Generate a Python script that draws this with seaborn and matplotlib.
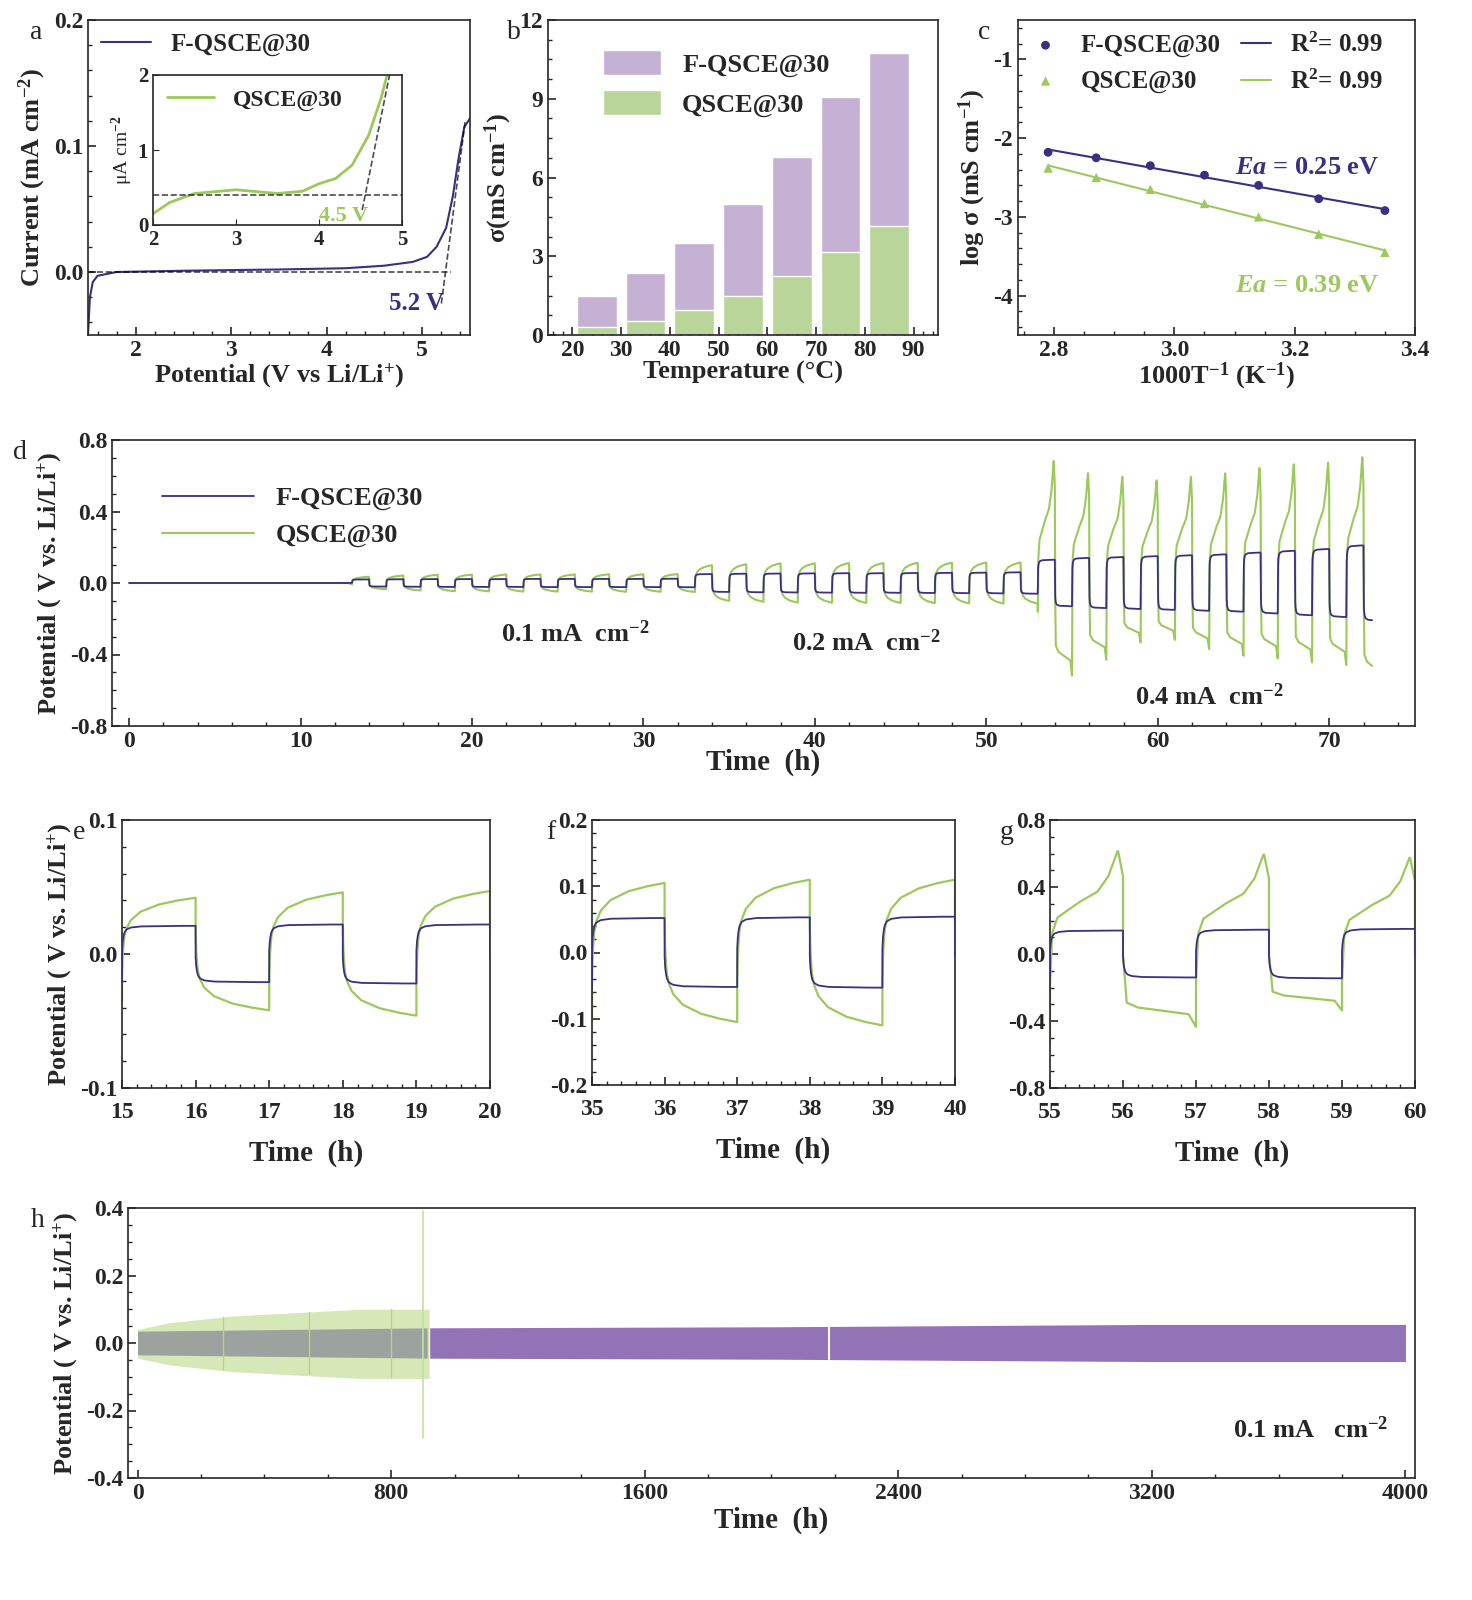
import numpy as np
import matplotlib
matplotlib.use("Agg")
import matplotlib.pyplot as plt
import seaborn as sns

sns.set_style("ticks")
plt.rcParams['font.family'] = ['Liberation Serif', 'DejaVu Serif']
plt.rcParams['font.weight'] = 'bold'
plt.rcParams['axes.labelweight'] = 'bold'
plt.rcParams['mathtext.fontset'] = 'custom'
plt.rcParams['mathtext.rm'] = 'Liberation Serif:bold'
plt.rcParams['mathtext.it'] = 'Liberation Serif:italic:bold'
plt.rcParams['mathtext.default'] = 'rm'
plt.rcParams['axes.unicode_minus'] = False
plt.rcParams['xtick.direction'] = 'in'
plt.rcParams['ytick.direction'] = 'in'
plt.rcParams['axes.linewidth'] = 1.2

PUR = '#3b2f80'
GRN = '#9cc95c'
BPUR = '#c6abd9'
BGRN = '#badf90'

# ---- data ----
# a: LSV
lsv_v = [1.5, 1.52, 1.55, 1.6, 1.8, 2.5, 3.5, 4.2, 4.6, 4.9, 5.05, 5.15, 5.25, 5.32, 5.38, 5.44, 5.5]
lsv_i = [-0.05, -0.02, -0.008, -0.003, 0.0, 0.001, 0.002, 0.003, 0.005, 0.008, 0.012, 0.02, 0.035, 0.06, 0.09, 0.115, 0.122]
ins_v = [2.0, 2.2, 2.5, 3.0, 3.5, 3.8, 4.0, 4.2, 4.4, 4.6, 4.75, 4.82]
ins_i = [0.15, 0.3, 0.42, 0.47, 0.42, 0.45, 0.55, 0.62, 0.8, 1.2, 1.7, 2.0]
# b: conductivity
temps = [25, 35, 45, 55, 65, 75, 85]
sig_f = [1.5, 2.35, 3.5, 5.0, 6.8, 9.05, 10.75]
sig_q = [0.3, 0.55, 0.95, 1.5, 2.25, 3.15, 4.15]
# c: Arrhenius
invT = [2.79, 2.87, 2.96, 3.05, 3.14, 3.24, 3.35]
log_f = [-2.18, -2.25, -2.35, -2.47, -2.6, -2.77, -2.92]
log_q = [-2.38, -2.5, -2.65, -2.83, -3.0, -3.22, -3.45]
# d: rate cycling amplitudes per cycle (10 cycles each)
amp_f_01 = [0.020, 0.021, 0.022, 0.022, 0.022, 0.023, 0.023, 0.023, 0.023, 0.024]
amp_q_01 = [0.035, 0.042, 0.046, 0.047, 0.048, 0.048, 0.048, 0.049, 0.049, 0.05]
amp_f_02 = [0.05, 0.052, 0.053, 0.054, 0.055, 0.055, 0.056, 0.057, 0.058, 0.06]
amp_q_02 = [0.1, 0.105, 0.11, 0.11, 0.112, 0.112, 0.113, 0.114, 0.115, 0.115]
amp_f_04 = [0.13, 0.14, 0.145, 0.15, 0.155, 0.16, 0.17, 0.18, 0.19, 0.21]
amp_q_04p = [0.69, 0.62, 0.6, 0.58, 0.6, 0.62, 0.65, 0.67, 0.68, 0.71]
amp_q_04n = [0.7, 0.58, 0.45, 0.43, 0.5, 0.55, 0.57, 0.6, 0.62, 0.8]
# normalized half-cycle templates
tf = [0, 0.01, 0.03, 0.06, 0.12, 0.25, 0.5, 0.75, 1.0]
shape_f = [0.1, 0.5, 0.75, 0.87, 0.94, 0.98, 0.99, 1.0, 1.0]
shape_q = [-0.4, 0.0, 0.3, 0.45, 0.6, 0.75, 0.88, 0.95, 1.0]
tq4p = [0, 0.03, 0.1, 0.4, 0.65, 0.8, 0.93, 1.0]
shape_q4p = [-0.3, 0.2, 0.35, 0.5, 0.6, 0.75, 1.0, 0.75]
tq4n = [0, 0.05, 0.2, 0.5, 0.9, 1.0]
shape_q4n = [0.0, 0.5, 0.55, 0.58, 0.62, 0.75]
# h: long cycling envelopes
h_t = [0, 100, 300, 500, 700, 900, 920]
h_qenv = [0.04, 0.06, 0.08, 0.09, 0.1, 0.1, 0.1]
hf_t = [0, 920, 2000, 3200, 4000]
hf_env = [0.035, 0.045, 0.048, 0.055, 0.055]

N = 120
def half(t0, x, y, amp, sign):
    u = np.linspace(0, 1, N)
    return t0 + u, sign * amp * np.interp(u, x, y)

T, VF, VQ = [np.linspace(0, 13, 50)], [np.zeros(50)], [np.zeros(50)]
t0 = 13.0
for af, aq in zip(amp_f_01 + amp_f_02, amp_q_01 + amp_q_02):
    for s in (1, -1):
        tt, vf = half(t0, tf, shape_f, af, s)
        _, vq = half(t0, tf, shape_q, aq, s)
        T.append(tt); VF.append(vf); VQ.append(vq); t0 += 1
for af, ap, an in zip(amp_f_04, amp_q_04p, amp_q_04n):
    tt, vf = half(t0, tf, shape_f, af, 1)
    _, vq = half(t0, tq4p, shape_q4p, ap, 1)
    T.append(tt); VF.append(vf); VQ.append(vq); t0 += 1
    tt, vf = half(t0, tf, shape_f, af, -1)
    _, vq = half(t0, tq4n, shape_q4n, an, -1)
    T.append(tt); VF.append(vf); VQ.append(vq); t0 += 1
T = np.concatenate(T); VF = np.concatenate(VF); VQ = np.concatenate(VQ)
m = T <= 72.5
T, VF, VQ = T[m], VF[m], VQ[m]

fig = plt.figure(figsize=(14.72, 16), dpi=100)
W, H = 1472, 1600
def ax_px(x0, y0, x1, y1):
    return fig.add_axes([x0 / W, 1 - y1 / H, (x1 - x0) / W, (y1 - y0) / H])
def lab(ax, s, dx=-0.07):
    ax.text(dx, 1.0, s, transform=ax.transAxes, fontsize=20, fontweight='normal', va='top', ha='right')
def style(ax):
    ax.tick_params(labelsize=17, width=1.2, length=6, which='major', top=False, right=False)
    ax.minorticks_on()
    ax.tick_params(which='minor', length=3, width=1)

# a
ax = ax_px(88, 20, 470, 335)
sns.lineplot(x=lsv_v, y=lsv_i, ax=ax, color=PUR, lw=1.5, label='F-QSCE@30')
ax.plot([1.5, 5.3], [0, 0], 'k--', lw=1.2, alpha=0.7)
ax.plot([5.2, 5.45], [-0.025, 0.12], 'k--', lw=1.2, alpha=0.7)
ax.text(4.65, -0.03, '5.2 V', color=PUR, fontsize=18)
ax.set_xlim(1.5, 5.5); ax.set_ylim(-0.05, 0.2)
ax.set_xticks([2, 3, 4, 5]); ax.set_yticks([0.0, 0.1, 0.2])
ax.set_xlabel('Potential (V vs Li/Li$^{+}$)', fontsize=19, labelpad=0)
ax.set_ylabel('Current (mA cm$^{-2}$)', fontsize=19)
ax.legend(loc='upper left', frameon=False, fontsize=18, handlelength=2, borderaxespad=0.1)
style(ax); lab(ax, 'a', -0.12)
ia = ax_px(153, 75, 402, 225)
sns.lineplot(x=ins_v, y=ins_i, ax=ia, color=GRN, lw=2, label='QSCE@30')
ia.plot([2, 5], [0.4, 0.4], 'k--', lw=1.2, alpha=0.7)
ia.plot([4.52, 4.85], [0.2, 2.0], 'k--', lw=1.2, alpha=0.7)
ia.text(4.0, 0.05, '4.5 V', color=GRN, fontsize=16)
ia.set_xlim(2, 5); ia.set_ylim(0, 2); ia.set_xticks([2, 3, 4, 5]); ia.set_yticks([0, 1, 2])
ia.set_ylabel('μA cm$^{-2}$', fontsize=14, fontweight='normal', labelpad=2)
ia.set_xlabel('')
ia.legend(loc='upper left', frameon=False, fontsize=17, borderaxespad=0.2)
ia.tick_params(labelsize=15, length=4)

# b
ax = ax_px(548, 20, 938, 335)
sns.barplot(x=temps, y=sig_f, ax=ax, color=BPUR, native_scale=True, width=0.82, label='F-QSCE@30')
sns.barplot(x=temps, y=sig_q, ax=ax, color=BGRN, native_scale=True, width=0.82, label='QSCE@30')
ax.set_xlim(15, 95); ax.set_ylim(0, 12)
ax.set_xticks(range(20, 100, 10)); ax.set_yticks([0, 3, 6, 9, 12])
ax.set_xlabel('Temperature (°C)', fontsize=19, labelpad=0)
ax.set_ylabel('σ(mS cm$^{-1}$)', fontsize=19)
ax.legend(loc='upper left', bbox_to_anchor=(0.08, 0.98), frameon=False, fontsize=19, handlelength=2.2, handleheight=1.1)
style(ax); lab(ax, 'b', -0.07)

# c
ax = ax_px(1018, 20, 1415, 335)
sns.scatterplot(x=invT, y=log_f, ax=ax, color=PUR, s=40, marker='o', label='F-QSCE@30', edgecolor='none')
sns.scatterplot(x=invT, y=log_q, ax=ax, color=GRN, s=45, marker='^', label='QSCE@30', edgecolor='none')
pf = np.polyfit(invT, log_f, 1); pq = np.polyfit(invT, log_q, 1)
xx = np.array([invT[0], invT[-1]])
ax.plot(xx, np.polyval(pf, xx), color=PUR, lw=1.5, label='R$^{2}$= 0.99')
ax.plot(xx, np.polyval(pq, xx), color=GRN, lw=1.5, label='R$^{2}$= 0.99')
h, l = ax.get_legend_handles_labels()
ax.legend(h[:4], l[:4], ncol=2, loc='upper left', frameon=False,
          fontsize=18, handlelength=1.2, columnspacing=0.8, borderaxespad=0.1)
ax.text(3.1, -2.45, '$\\mathit{Ea}$ = 0.25 eV', color=PUR, fontsize=19)
ax.text(3.1, -3.95, '$\\mathit{Ea}$ = 0.39 eV', color=GRN, fontsize=19)
ax.set_xlim(2.74, 3.4); ax.set_ylim(-4.5, -0.5)
ax.set_xticks([2.8, 3.0, 3.2, 3.4]); ax.set_yticks([-4, -3, -2, -1])
ax.set_xlabel('1000T$^{-1}$ (K$^{-1}$)', fontsize=19, labelpad=0)
ax.set_ylabel('log σ (mS cm$^{-1}$)', fontsize=19)
style(ax); lab(ax, 'c', -0.07)

# d
ax = ax_px(112, 440, 1415, 726)
sns.lineplot(x=T, y=VF, ax=ax, color=PUR, lw=1.3, label='F-QSCE@30', zorder=3)
sns.lineplot(x=T, y=VQ, ax=ax, color=GRN, lw=1.5, label='QSCE@30')
ax.text(26, -0.33, '0.1 mA  cm$^{-2}$', fontsize=19, ha='center')
ax.text(43, -0.38, '0.2 mA  cm$^{-2}$', fontsize=19, ha='center')
ax.text(63, -0.68, '0.4 mA  cm$^{-2}$', fontsize=19, ha='center')
ax.set_xlim(-1, 75); ax.set_ylim(-0.8, 0.8)
ax.set_xticks(range(0, 80, 10)); ax.set_yticks([-0.8, -0.4, 0.0, 0.4, 0.8])
ax.set_xlabel('Time  (h)', fontsize=21, labelpad=-2)
ax.set_ylabel('Potential ( V vs. Li/Li$^{+}$)', fontsize=19)
ax.legend(loc='upper left', bbox_to_anchor=(0.02, 0.92), frameon=False, fontsize=19, handlelength=3.5)
style(ax); lab(ax, 'd', -0.065)

# e f g
for box, (lo, hi), (ylo, yhi, step), name in [((122, 820, 490, 1088), (15, 20), (-0.1, 0.1, 0.1), 'e'),
                                            ((592, 820, 955, 1085), (35, 40), (-0.2, 0.2, 0.1), 'f'),
                                            ((1050, 820, 1415, 1088), (55, 60), (-0.8, 0.8, 0.4), 'g')]:
    ax = ax_px(*box)
    mm = (T >= lo) & (T <= hi)
    ax.plot(T[mm], VF[mm], color=PUR, lw=1.3, zorder=3)
    ax.plot(T[mm], VQ[mm], color=GRN, lw=1.6)
    ax.set_xlim(lo, hi); ax.set_ylim(ylo, yhi)
    ax.set_xticks(range(lo, hi + 1)); ax.set_yticks(np.round(np.arange(ylo, yhi + 1e-9, step), 2))
    ax.set_xlabel('Time  (h)', fontsize=21, labelpad=12)
    if name == 'e':
        ax.set_ylabel('Potential ( V vs. Li/Li$^{+}$)', fontsize=19)
    ax.tick_params(axis='x', pad=10)
    style(ax); lab(ax, name, -0.1)

# h
ax = ax_px(128, 1208, 1415, 1478)
xq = np.linspace(0, 920, 300)
qe = np.interp(xq, h_t, h_qenv)
ax.fill_between(xq, -qe - 0.005, qe, color='#d6e8b8', lw=0)
for xv in (270, 540, 800):
    e = np.interp(xv, h_t, h_qenv)
    ax.axvline(xv, ymin=(0.4 - e) / 0.8, ymax=(0.4 + e) / 0.8, color='#b5d48a', lw=1)
ax.plot([900, 900], [-0.28, 0.39], color='#c6df9e', lw=1.2)
xf = np.linspace(0, 4000, 500)
fe = np.interp(xf, hf_t, hf_env)
g = xf <= 920
ax.fill_between(xf[g], -fe[g], fe[g], color='#9ca39e', lw=0)
ax.fill_between(xf[~g], -fe[~g], fe[~g], color='#9273b5', lw=0)
ax.axvline(2180, ymin=0.44, ymax=0.56, color='white', lw=1.5)
ax.text(3700, -0.28, '0.1 mA   cm$^{-2}$', fontsize=19, ha='center')
ax.set_xlim(-30, 4030); ax.set_ylim(-0.4, 0.4)
ax.set_xticks([0, 800, 1600, 2400, 3200, 4000]); ax.set_yticks([-0.4, -0.2, 0.0, 0.2, 0.4])
ax.set_xlabel('Time  (h)', fontsize=21, labelpad=2)
ax.set_ylabel('Potential ( V vs. Li/Li$^{+}$)', fontsize=19)
style(ax); lab(ax, 'h', -0.065)

fig.savefig('out.png', dpi=100)
